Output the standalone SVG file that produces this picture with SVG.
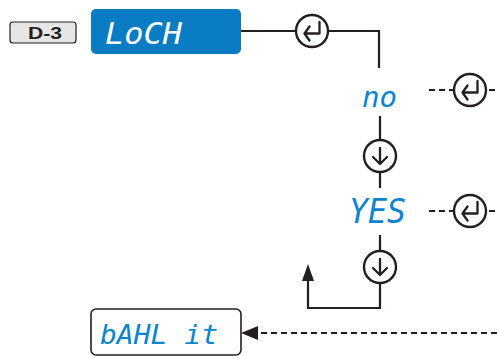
<svg xmlns="http://www.w3.org/2000/svg" width="497" height="356" viewBox="0 0 497 356">
<style>
.ln{fill:none;stroke:#231f20;stroke-width:2.2}
.dash{fill:none;stroke:#231f20;stroke-width:2;stroke-dasharray:6,4}
.circ{fill:#fff;stroke:#231f20;stroke-width:2.4}
.ico{fill:none;stroke:#231f20;stroke-width:2.3;stroke-linecap:round;stroke-linejoin:round}
.seg{font-family:"DejaVu Sans Mono","Liberation Mono",monospace;font-style:italic;fill:#0a84d0}
</style>
<defs>
<g id="enter">
<circle class="circ" cx="0" cy="0" r="16"/>
<path class="ico" d="M7.5,-9 V2.5 H-7.5 M-2.5,-4.5 L-7.5,2.5 L-2.5,9.5"/>
</g>
<g id="down">
<circle class="circ" cx="0" cy="0" r="16"/>
<path class="ico" d="M0,-8 V8 M-7,1 L0,8 L7,1"/>
</g>
</defs>
<g id="connectors">
<path class="ln" d="M241,31 H379 V68"/>
<path class="ln" d="M380,116 V188"/>
<path class="ln" d="M380,235 V308 H308 V280"/>
<path d="M302,281 L308,264 L314,281 Z" fill="#231f20"/>
<path class="dash" d="M429,90 H497"/>
<path class="dash" d="M429,211 H497"/>
<path class="dash" d="M497,333 H258"/>
<path d="M241,333 L258,326 L258,340 Z" fill="#231f20"/>
<use href="#enter" x="312" y="31"/>
<use href="#enter" x="470" y="90"/>
<use href="#down" x="380" y="156"/>
<use href="#enter" x="470" y="211"/>
<use href="#down" x="380" y="267"/>
</g>
<g id="label-d3">
<rect x="10" y="22" width="66" height="21" rx="3" fill="#e6e6e6" stroke="#231f20" stroke-width="1.2"/>
<text x="28" y="39" font-family="Liberation Sans,Arial,sans-serif" font-weight="bold" font-size="17" textLength="34" lengthAdjust="spacingAndGlyphs" fill="#231f20">D-3</text>
</g>
<g id="node-loch">
<rect x="91" y="9" width="150" height="45" rx="5" fill="#0a7cc4"/>
<text class="seg" x="105" y="44" font-size="30" textLength="77" lengthAdjust="spacingAndGlyphs" style="fill:#fff">LoCH</text>
</g>
<g id="node-no">
<text class="seg" x="362" y="107" font-size="28" textLength="35" lengthAdjust="spacingAndGlyphs">no</text>
</g>
<g id="node-yes">
<text class="seg" x="349" y="223" font-size="34" textLength="57" lengthAdjust="spacingAndGlyphs">YES</text>
</g>
<g id="node-bahlit">
<rect x="91" y="309" width="150" height="46" rx="5" fill="#fff" stroke="#231f20" stroke-width="1.6"/>
<text class="seg" x="100" y="344" font-size="27" textLength="118" lengthAdjust="spacingAndGlyphs">bAHL it</text>
</g>
</svg>
